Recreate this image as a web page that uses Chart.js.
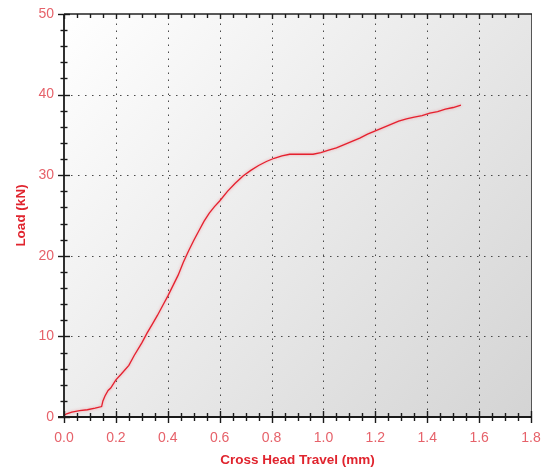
<!DOCTYPE html>
<html><head><meta charset="utf-8">
<script src="https://cdn.jsdelivr.net/npm/chart.js@4.4.0/dist/chart.umd.min.js"></script>
<style>
html,body{margin:0;padding:0;background:#fff;overflow:hidden}
#wrap{position:relative;width:545px;height:471px}
</style>
</head><body>
<div id="wrap"><canvas id="c" width="545" height="471"></canvas></div>
<script>
// ---- data ----
const travelMm = [0.000,0.010,0.030,0.060,0.090,0.120,0.145,0.150,0.158,0.170,0.180,0.200,0.220,0.250,0.270,0.300,0.320,0.340,0.360,0.380,0.400,0.420,0.440,0.460,0.480,0.500,0.520,0.540,0.560,0.580,0.600,0.630,0.660,0.690,0.720,0.750,0.780,0.810,0.840,0.870,0.900,0.930,0.960,0.990,1.020,1.050,1.080,1.110,1.140,1.170,1.200,1.230,1.260,1.290,1.320,1.350,1.380,1.410,1.440,1.470,1.500,1.530];
const loadKN   = [0.2,0.4,0.6,0.8,0.9,1.1,1.3,2.0,2.6,3.3,3.6,4.6,5.3,6.4,7.6,9.2,10.4,11.5,12.6,13.8,15.0,16.3,17.6,19.2,20.6,21.9,23.1,24.3,25.3,26.1,26.8,28.0,29.0,29.9,30.6,31.2,31.7,32.1,32.4,32.6,32.6,32.6,32.6,32.8,33.1,33.4,33.8,34.2,34.6,35.1,35.5,35.9,36.3,36.7,37.0,37.2,37.4,37.7,37.9,38.2,38.4,38.7];
const xTickValues = [0,0.2,0.4,0.6,0.8,1.0,1.2,1.4,1.6,1.8];
const xTickLabels = ['0.0','0.2','0.4','0.6','0.8','1.0','1.2','1.4','1.6','1.8'];
const yTickValues = [0,10,20,30,40,50];
const yTickLabels = ['0','10','20','30','40','50'];
const xMinorStep = 0.05;
const yMinorStep = 2;
const xTitle = 'Cross Head Travel (mm)';
const yTitle = 'Load (kN)';

const tickRed = '#e6626a';
const titleRed = '#e0242e';
const lineRed = '#e5202e';

function seg(ctx, x1, y1, x2, y2){ ctx.beginPath(); ctx.moveTo(x1,y1); ctx.lineTo(x2,y2); ctx.stroke(); }

const framePlugin = {
  id: 'frame',
  beforeDatasetsDraw(chart){
    const {ctx, chartArea:a, scales:{x, y}} = chart;
    ctx.save();
    const g = ctx.createLinearGradient(a.left, a.top, a.right, a.bottom);
    g.addColorStop(0, '#ffffff');
    g.addColorStop(1, '#d4d4d4');
    ctx.fillStyle = g;
    ctx.fillRect(a.left, a.top, a.right - a.left, a.bottom - a.top);
    // dotted grid
    ctx.strokeStyle = '#4a4a4a';
    ctx.lineWidth = 1;
    ctx.setLineDash([1.5, 5.5]);
    xTickValues.forEach(v => {
      if (v <= x.min || v >= x.max) return;
      const px = Math.round(x.getPixelForValue(v)) + 0.5;
      seg(ctx, px, a.bottom, px, a.top);
    });
    yTickValues.forEach(v => {
      if (v <= y.min || v >= y.max) return;
      const py = Math.round(y.getPixelForValue(v)) + 0.5;
      seg(ctx, a.left, py, a.right, py);
    });
    ctx.restore();
  },
  afterDatasetsDraw(chart){
    const {ctx, chartArea:a, scales:{x, y}} = chart;
    ctx.save();
    ctx.setLineDash([]);
    // right border
    ctx.strokeStyle = '#555';
    ctx.lineWidth = 1;
    seg(ctx, a.right + 0.5, a.top, a.right + 0.5, a.bottom);
    // top border
    ctx.strokeStyle = '#222';
    ctx.lineWidth = 1.5;
    seg(ctx, a.left, a.top, a.right + 1, a.top);
    // left and bottom axes
    ctx.strokeStyle = '#1a1a1a';
    ctx.lineWidth = 1.8;
    seg(ctx, a.left, a.top, a.left, a.bottom);
    seg(ctx, a.left - 6, a.bottom, a.right + 1, a.bottom);
    // ticks
    ctx.lineWidth = 1.4;
    const nx = Math.round((x.max - x.min) / xMinorStep);
    for (let i = 0; i <= nx; i++) {
      const v = x.min + i * xMinorStep;
      const major = i % 4 === 0;
      const px = Math.round(x.getPixelForValue(v)) + 0.5;
      const len = major ? 6 : 4;
      seg(ctx, px, a.bottom - len, px, a.bottom + len);
      if (i < nx) seg(ctx, px, a.top, px, a.top + (major ? 5 : 4));
    }
    const ny = Math.round((y.max - y.min) / yMinorStep);
    for (let i = 0; i <= ny; i++) {
      const v = y.min + i * yMinorStep;
      const major = i % 5 === 0;
      const py = Math.round(y.getPixelForValue(v)) + 0.5;
      const len = major ? 6 : 3.5;
      seg(ctx, a.left - len, py, a.left + len, py);
    }
    ctx.restore();
  },
  beforeDatasetDraw(chart){
    const ctx = chart.ctx;
    ctx.save();
    ctx.shadowColor = 'rgba(240,90,100,0.55)';
    ctx.shadowBlur = 3;
  },
  afterDatasetDraw(chart){
    chart.ctx.restore();
  }
};

const points = travelMm.map((t, i) => ({x: t, y: loadKN[i]}));

new Chart(document.getElementById('c'), {
  type: 'line',
  data: {
    datasets: [{
      label: yTitle,
      data: points,
      borderColor: lineRed,
      borderWidth: 1.3,
      pointRadius: 0,
      tension: 0,
      fill: false
    }]
  },
  options: {
    responsive: false,
    animation: false,
    devicePixelRatio: 1,
    layout: { padding: { top: 14, right: 14, left: 0, bottom: 0 } },
    plugins: { legend: { display: false }, tooltip: { enabled: false } },
    scales: {
      x: {
        type: 'linear',
        min: 0, max: 1.8,
        afterBuildTicks: s => { s.ticks = xTickValues.map(v => ({value: v})); },
        afterFit: s => { s.height = 54; s.paddingLeft = 0; s.paddingRight = 0; },
        ticks: {
          callback: (v, i) => xTickLabels[i],
          color: tickRed,
          font: { family: 'Liberation Sans', size: 14 },
          padding: 13,
          maxRotation: 0,
          autoSkip: false
        },
        grid: { display: false, drawTicks: false },
        border: { display: false },
        title: {
          display: true, text: xTitle, color: titleRed,
          font: { family: 'Liberation Sans', size: 13.5, weight: 'bold' },
          padding: { top: 0, bottom: 3 }
        }
      },
      y: {
        type: 'linear',
        min: 0, max: 50,
        afterBuildTicks: s => { s.ticks = yTickValues.map(v => ({value: v})); },
        afterFit: s => { s.width = 64; s.paddingTop = 0; s.paddingBottom = 0; },
        ticks: {
          callback: (v, i) => yTickLabels[i],
          color: tickRed,
          font: { family: 'Liberation Sans', size: 14 },
          padding: 10,
          autoSkip: false
        },
        grid: { display: false, drawTicks: false },
        border: { display: false },
        title: {
          display: true, text: yTitle, color: titleRed,
          font: { family: 'Liberation Sans', size: 13.5, weight: 'bold' },
          padding: { top: 13, bottom: 0 }
        }
      }
    }
  },
  plugins: [framePlugin]
});
</script>
</body></html>
